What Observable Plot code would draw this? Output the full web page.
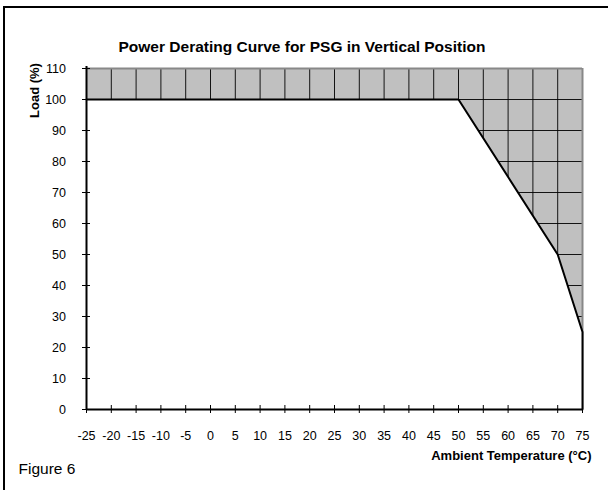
<!DOCTYPE html>
<html>
<head>
<meta charset="utf-8">
<script src="https://cdn.jsdelivr.net/npm/d3@7"></script>
<script src="https://cdn.jsdelivr.net/npm/@observablehq/plot@0.6"></script>
<style>
  html, body { margin: 0; padding: 0; background: #fff; }
  #wrap { position: relative; width: 608px; height: 490px; overflow: hidden; font-family: "Liberation Sans", Arial, sans-serif; }
  #border { position: absolute; left: 3px; top: 6px; right: -10px; bottom: -10px; border-top: 2px solid #000; border-left: 2px solid #000; }
  #chart { position: absolute; left: 0; top: 0; }
</style>
</head>
<body>
<div id="wrap"><div id="border"></div><div id="chart"></div></div>
<script>
// Data
const temperature = [-25, 50, 70, 75, 75];   // °C
const load = [100, 100, 50, 25, 0];          // %
const xTicks = [-25, -20, -15, -10, -5, 0, 5, 10, 15, 20, 25, 30, 35, 40, 45, 50, 55, 60, 65, 70, 75];
const yTicks = [0, 10, 20, 30, 40, 50, 60, 70, 80, 90, 100, 110];
const title = "Power Derating Curve for PSG in Vertical Position";
const xLabel = "Ambient Temperature (°C)";
const yLabel = "Load (%)";
const caption = "Figure 6";

const curve = temperature.map((t, i) => ({t, l: load[i]}));
const font = "Liberation Sans, Arial, sans-serif";

const chart = Plot.plot({
  width: 608,
  height: 490,
  marginLeft: 86,
  marginRight: 26,
  marginTop: 68,
  marginBottom: 81,
  style: {fontFamily: font, background: "transparent", overflow: "visible"},
  x: {domain: [-25, 75], axis: null},
  y: {domain: [0, 110], axis: null},
  marks: [
    Plot.frame({fill: "#c0c0c0", stroke: null}),
    Plot.gridX(xTicks, {stroke: "#000", strokeOpacity: 0.9, strokeWidth: 1}),
    Plot.gridY(yTicks, {stroke: "#000", strokeOpacity: 0.9, strokeWidth: 1}),
    Plot.ruleY([110], {stroke: "#888", strokeWidth: 2}),
    Plot.ruleX([75], {stroke: "#888", strokeWidth: 2}),
    Plot.areaY(curve, {x: "t", y: "l", fill: "#fff", curve: "linear"}),
    Plot.line(curve, {x: "t", y: "l", stroke: "#000", strokeWidth: 2}),
    Plot.ruleX([-25], {stroke: "#000", strokeWidth: 2, insetTop: -2}),
    Plot.ruleY([0], {stroke: "#000", strokeWidth: 2}),
    Plot.axisX({ticks: xTicks, tickSize: 8, dy: -4, tickFormat: () => "", label: null, stroke: "#000"}),
    Plot.axisY({ticks: yTicks, tickSize: 8, dx: 4, tickFormat: () => "", label: null, stroke: "#000"}),
    Plot.text(xTicks, {x: d => d, frameAnchor: "bottom", dy: 30, text: d => String(d), fontSize: 12.5, fill: "#000"}),
    Plot.text(yTicks, {y: d => d, frameAnchor: "left", dx: -20.5, textAnchor: "end", text: d => String(d), fontSize: 12.5, fill: "#000"}),
    Plot.text([title], {frameAnchor: "top-left", dx: 32, dy: -28, textAnchor: "start", fontWeight: "bold", fontSize: 15.5, fill: "#000"}),
    Plot.text([yLabel], {frameAnchor: "top-left", dx: -57, dy: 22, rotate: -90, textAnchor: "middle", fontWeight: "bold", fontSize: 13, fill: "#000"}),
    Plot.text([xLabel], {frameAnchor: "bottom-right", dx: 9, dy: 50, textAnchor: "end", fontWeight: "bold", fontSize: 13, fill: "#000"}),
    Plot.text([caption], {frameAnchor: "bottom-left", dx: -68, dy: 64, textAnchor: "start", fontSize: 15.5, fill: "#000"})
  ]
});
document.getElementById("chart").appendChild(chart);
</script>
</body>
</html>
